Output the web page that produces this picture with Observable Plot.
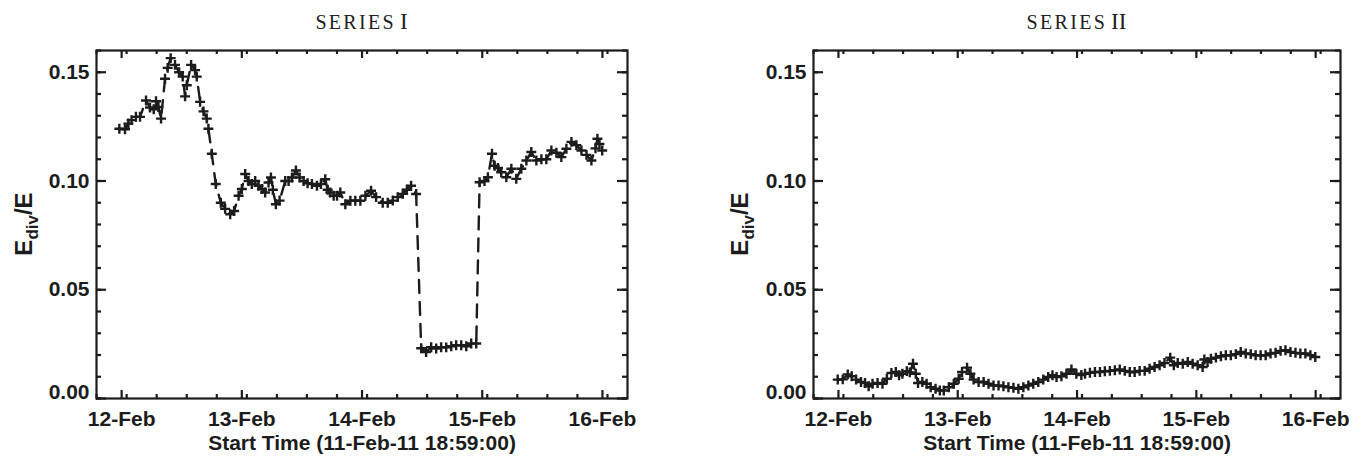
<!DOCTYPE html>
<html><head><meta charset="utf-8">
<script src="https://cdn.jsdelivr.net/npm/d3@7"></script>
<script src="https://cdn.jsdelivr.net/npm/@observablehq/plot@0.6"></script>
<style>
body{margin:0;background:#fff;}
#wrap{position:relative;width:1367px;height:456px;overflow:hidden;background:#fff;}
.panel{position:absolute;top:0;height:456px;}
.title{position:absolute;top:10px;line-height:24px;text-align:center;font-family:"Liberation Serif","DejaVu Serif",serif;color:#222;white-space:nowrap;}
.title .sc{font-size:20px;letter-spacing:2.3px;}
.title .rn{font-size:23px;}
.panel svg{position:absolute;left:0;top:40px;}
</style></head><body><div id="wrap"></div>
<script>
// ---- axis / text data ----
const startTime = "2011-02-11T18:59:00Z";
const endTime = "2011-02-16T05:00:00Z";
const tickLabels = ["12-Feb", "13-Feb", "14-Feb", "15-Feb", "16-Feb"];
const yTickValues = [0.00, 0.05, 0.10, 0.15];
const xLabel = "Start Time (11-Feb-11 18:59:00)";
const titles = [["SERIES", "I"], ["SERIES", "II"]];

// ---- Series I: day of February 2011 (UTC, fractional) and E_div/E ----
const daysI = [11.981,12.028,12.056,12.083,12.119,12.153,12.203,12.236,12.267,12.286,12.306,12.328,
12.361,12.383,12.408,12.444,12.478,12.508,12.528,12.542,12.578,12.611,12.625,12.653,12.681,12.708,12.722,
12.750,12.783,12.825,12.861,12.903,12.936,12.973,13.000,13.028,13.056,13.083,13.111,13.139,13.167,13.194,
13.222,13.242,13.258,13.283,13.314,13.361,13.389,13.417,13.450,13.481,13.514,13.547,13.583,13.625,13.658,
13.694,13.714,13.736,13.764,13.792,13.819,13.861,13.903,13.944,13.986,14.028,14.075,14.117,14.172,14.214,
14.256,14.297,14.339,14.373,14.408,14.450,14.492,14.533,14.575,14.617,14.658,14.700,14.742,14.783,14.825,
14.867,14.908,14.950,14.978,15.019,15.047,15.081,15.103,15.131,15.158,15.200,15.242,15.283,15.325,15.367,
15.408,15.450,15.492,15.533,15.575,15.617,15.658,15.700,15.742,15.783,15.825,15.867,15.908,15.942,15.958,
15.975,15.998];
const valuesI = [0.1240,0.1238,0.1264,0.1280,0.1295,0.1295,0.1370,0.1338,0.1330,0.1367,0.1340,0.1287,
0.1470,0.1520,0.1565,0.1534,0.1500,0.1480,0.1389,0.1440,0.1534,0.1510,0.1480,0.1364,0.1320,0.1287,0.1240,
0.1125,0.0986,0.0900,0.0872,0.0847,0.0862,0.0932,0.0963,0.1032,0.1000,0.0986,0.1000,0.0978,0.0963,0.0947,
0.0993,0.1016,0.0960,0.0893,0.0910,0.1000,0.1000,0.1016,0.1048,0.1016,0.1000,0.0990,0.0986,0.0978,0.0986,
0.1008,0.0960,0.0947,0.0932,0.0932,0.0947,0.0893,0.0909,0.0909,0.0909,0.0932,0.0955,0.0926,0.0900,0.0900,
0.0910,0.0926,0.0941,0.0960,0.0978,0.0940,0.0231,0.0214,0.0236,0.0230,0.0236,0.0235,0.0240,0.0245,0.0245,
0.0240,0.0253,0.0253,0.0994,0.1000,0.1017,0.1125,0.1070,0.1060,0.1040,0.1017,0.1056,0.1010,0.1056,0.1094,
0.1133,0.1094,0.1100,0.1100,0.1140,0.1130,0.1110,0.1148,0.1180,0.1165,0.1140,0.1120,0.1094,0.1150,0.1194,
0.1170,0.1140];

// ---- Series II ----
const daysII = [11.994,12.036,12.078,12.111,12.148,12.189,12.223,12.253,12.286,12.328,12.369,12.406,12.444,
12.481,12.508,12.536,12.573,12.598,12.625,12.648,12.667,12.703,12.739,12.773,12.814,12.850,12.883,12.925,
12.967,13.008,13.036,13.078,13.106,13.133,13.175,13.217,13.258,13.300,13.342,13.383,13.425,13.467,13.508,
13.550,13.592,13.633,13.675,13.717,13.758,13.794,13.828,13.869,13.911,13.953,13.994,14.036,14.067,14.108,
14.150,14.192,14.233,14.275,14.317,14.358,14.400,14.442,14.483,14.525,14.567,14.608,14.650,14.692,14.733,
14.781,14.811,14.844,14.886,14.928,14.969,15.011,15.053,15.067,15.094,15.122,15.164,15.206,15.247,15.289,
15.331,15.372,15.414,15.456,15.497,15.539,15.581,15.622,15.664,15.706,15.747,15.789,15.831,15.872,15.914,
15.956,15.997];
const valuesII = [0.0087,0.0088,0.0111,0.0102,0.0087,0.0076,0.0071,0.0056,0.0068,0.0071,0.0068,0.0091,0.0117,
0.0122,0.0107,0.0114,0.0126,0.0120,0.0160,0.0114,0.0071,0.0076,0.0068,0.0052,0.0045,0.0037,0.0037,0.0052,
0.0068,0.0091,0.0122,0.0142,0.0114,0.0087,0.0076,0.0076,0.0068,0.0060,0.0060,0.0056,0.0052,0.0049,0.0045,
0.0052,0.0060,0.0068,0.0076,0.0087,0.0099,0.0107,0.0099,0.0102,0.0114,0.0133,0.0114,0.0108,0.0114,0.0118,
0.0122,0.0122,0.0125,0.0127,0.0130,0.0133,0.0127,0.0122,0.0122,0.0127,0.0127,0.0137,0.0145,0.0153,0.0163,
0.0188,0.0153,0.0163,0.0160,0.0168,0.0160,0.0153,0.0145,0.0179,0.0168,0.0183,0.0188,0.0194,0.0199,0.0199,
0.0204,0.0214,0.0207,0.0204,0.0199,0.0199,0.0199,0.0207,0.0210,0.0219,0.0222,0.0214,0.0210,0.0207,0.0207,
0.0199,0.0191];

const INK = "#1c1c1c";
const toDate = d => new Date(Date.UTC(2011, 1, 1) + (d - 1) * 86400000);
const t0 = new Date(startTime), t1 = new Date(endTime);
const majorX = d3.utcDays(t0, t1);
const minorX = d3.utcHours(t0, t1, 6);
const labelOf = new Map(majorX.map((t, i) => [+t, tickLabels[i]]));
const minorY = d3.range(0, 0.1601, 0.01);

function makePanel({left, width, marginLeft, marginRight, days, values, title, yLabelX}) {
  const data = days.map((d, i) => ({t: toDate(d), v: values[i]}));
  const H = 416, mT = 10, mB = 58;
  const fh = H - mT - mB;                     // frame height
  const fw = width - marginLeft - marginRight; // frame width
  const rs = {stroke: INK, strokeWidth: 2.2};
  const plot = Plot.plot({
    width, height: H, marginLeft, marginRight, marginTop: mT, marginBottom: mB,
    x: {type: "utc", domain: [t0, t1]},
    y: {domain: [0, 0.16]},
    style: {fontFamily: "'Liberation Sans', Arial, sans-serif", fontWeight: "bold", fontSize: "21px", color: INK, background: "white", overflow: "visible"},
    marks: [
      Plot.line(data, {x: "t", y: "v", stroke: INK, strokeWidth: 2.4, strokeDasharray: "13,9"}),
      Plot.dot(data, {x: "t", y: "v", symbol: "plus", r: 3.3, stroke: INK, strokeWidth: 2.4}),
      // inward tick marks on all four sides (short rules at the scale's tick positions)
      Plot.ruleX(majorX, {x: d => d, insetTop: fh - 8, ...rs}),
      Plot.ruleX(minorX, {x: d => d, insetTop: fh - 4, ...rs}),
      Plot.ruleX(majorX, {x: d => d, insetBottom: fh - 8, ...rs}),
      Plot.ruleX(minorX, {x: d => d, insetBottom: fh - 4, ...rs}),
      Plot.ruleY(yTickValues, {y: d => d, insetRight: fw - 10, ...rs}),
      Plot.ruleY(minorY, {y: d => d, insetRight: fw - 5, ...rs}),
      Plot.ruleY(yTickValues, {y: d => d, insetLeft: fw - 10, ...rs}),
      Plot.ruleY(minorY, {y: d => d, insetLeft: fw - 5, ...rs}),
      Plot.frame({stroke: INK, strokeWidth: 2.2}),
      // tick labels
      Plot.axisX({anchor: "bottom", ticks: majorX, tickSize: 0, tickPadding: 13, tickFormat: d => labelOf.get(+d), label: null}),
      Plot.axisY({anchor: "left", ticks: yTickValues.slice(1), tickSize: 0, tickPadding: 7, tickFormat: d3.format(".2f"), label: null}),
      Plot.axisY({anchor: "left", ticks: yTickValues.slice(0, 1), tickSize: 0, tickPadding: 7, dy: -6, tickFormat: d3.format(".2f"), label: null}),
      Plot.text([xLabel], {text: d => d, frameAnchor: "bottom", dy: 45, lineAnchor: "middle", fill: INK})
    ]
  });
  // y-axis label with subscript
  const cy = mT + fh / 2;
  const lab = d3.select(plot).append("text")
    .attr("transform", `translate(${yLabelX},${cy}) rotate(-90)`)
    .attr("text-anchor", "middle")
    .attr("fill", INK)
    .attr("font-family", "'Liberation Sans', Arial, sans-serif")
    .attr("font-weight", "bold")
    .attr("font-size", 24);
  lab.append("tspan").text("E");
  lab.append("tspan").attr("font-size", 17).attr("dy", 6).text("div");
  lab.append("tspan").attr("dy", -6).text("/E");

  const div = document.createElement("div");
  div.className = "panel";
  div.style.left = left + "px";
  div.style.width = width + "px";
  const tt = document.createElement("div");
  tt.className = "title";
  tt.style.left = marginLeft + "px";
  tt.style.width = fw + "px";
  tt.innerHTML = `<span class="sc">${title[0]}</span> <span class="rn">${title[1]}</span>`;
  div.appendChild(tt);
  div.appendChild(plot);
  document.getElementById("wrap").appendChild(div);
}

makePanel({left: 0, width: 683, marginLeft: 96, marginRight: 56, days: daysI, values: valuesI, title: titles[0], yLabelX: 32});
makePanel({left: 683, width: 684, marginLeft: 130, marginRight: 27, days: daysII, values: valuesII, title: titles[1], yLabelX: 65});
</script></body></html>
